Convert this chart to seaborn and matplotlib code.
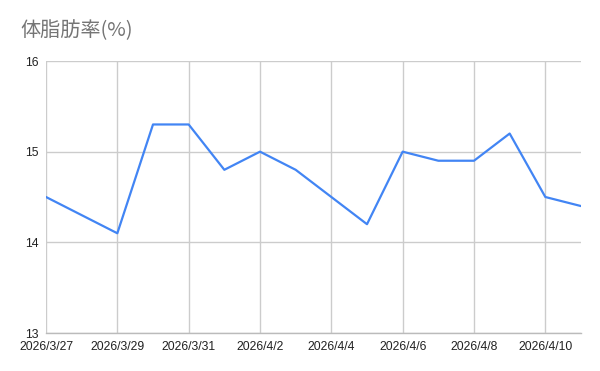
import matplotlib
matplotlib.use("Agg")
import matplotlib.pyplot as plt
import seaborn as sns
import pandas as pd

dates = ["2026-03-27", "2026-03-28", "2026-03-29", "2026-03-30", "2026-03-31",
         "2026-04-01", "2026-04-02", "2026-04-03", "2026-04-04", "2026-04-05",
         "2026-04-06", "2026-04-07", "2026-04-08", "2026-04-09", "2026-04-10",
         "2026-04-11"]
body_fat = [14.5, 14.3, 14.1, 15.3, 15.3, 14.8, 15.0, 14.8, 14.5, 14.2,
            15.0, 14.9, 14.9, 15.2, 14.5, 14.4]
y_ticks = [13, 14, 15, 16]
title = "体脂肪率(%)"

df = pd.DataFrame({"date": pd.to_datetime(dates), "value": body_fat})

sns.set_style("white")
plt.rcParams["font.family"] = ["Liberation Sans", "Noto Sans CJK JP", "DejaVu Sans"]

fig = plt.figure(figsize=(6, 3.71), dpi=100)
ax = fig.add_axes([46/600, 1-333/371, (581-46)/600, (333-61)/371])

sns.lineplot(data=df, x="date", y="value", ax=ax, color="#4285F4", linewidth=1.6)

ax.set_xlim(df["date"].iloc[0], df["date"].iloc[-1])
ax.set_ylim(13, 16)
ax.set_yticks(y_ticks)
ax.set_yticklabels([str(t) for t in y_ticks])

tick_dates = df["date"].iloc[::2]
ax.set_xticks(tick_dates)
ax.set_xticklabels([f"{d.year}/{d.month}/{d.day}" for d in tick_dates])

ax.grid(True, color="#cccccc", linewidth=1)
ax.set_axisbelow(True)
for s in ["top", "right", "left"]:
    ax.spines[s].set_visible(False)
ax.spines["bottom"].set_color("#bbbbbb")
ax.spines["bottom"].set_linewidth(1)
ax.tick_params(axis="both", length=0, labelsize=8.8, colors="#222222")
ax.tick_params(axis="x", pad=5.5)
ax.tick_params(axis="y", pad=5)
ax.set_xlabel("")
ax.set_ylabel("")

fig.text(20/600, 1-31/371, title, fontsize=14.5, color="#757575",
         family=["Noto Sans CJK JP", "DejaVu Sans"], va="center", ha="left")

fig.savefig("out.png", dpi=100, facecolor="white")
